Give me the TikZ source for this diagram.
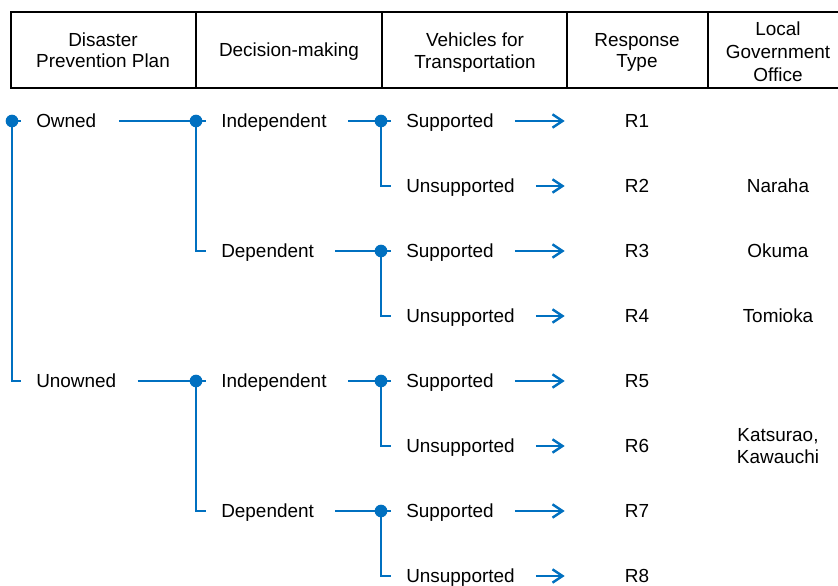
\documentclass[tikz,border=0pt]{standalone}
\usepackage{fontspec}
\setmainfont{Liberation Sans}
\usetikzlibrary{arrows.meta}
\definecolor{treeblue}{RGB}{0,112,192}
\lineskiplimit=-20pt

\begin{document}
\begin{tikzpicture}[x=0.75pt,y=-0.75pt,
  font=\fontsize{14.2pt}{17pt}\selectfont,
  lbl/.style={anchor=west,inner xsep=11.25pt,inner ysep=0pt,text height=10.2pt,text depth=0pt},
  res/.style={inner sep=0pt,text height=10.2pt,text depth=0pt},
  hd/.style={align=center,inner sep=0pt,font=\fontsize{14.2pt}{16.1pt}\selectfont},
  link/.style={draw=treeblue,line width=1.8pt},
  jdot/.style={circle,fill=treeblue,inner sep=0pt,minimum size=9.5pt},
  pick/.style={link,-{Straight Barb[length=7.5pt,width=10pt]}}]
\useasboundingbox (0,0) rectangle (838,585);

% header row
\draw[line width=1.1pt] (11,12) rectangle (860,88);
\draw[line width=1.1pt] (196,12) -- (196,88);
\draw[line width=1.1pt] (382,12) -- (382,88);
\draw[line width=1.1pt] (567,12) -- (567,88);
\draw[line width=1.1pt] (708,12) -- (708,88);
\node[hd] (hplan) at (103,50.5) {Disaster\\Prevention Plan};
\node[hd] (hdec) at (289,52) {Decision-making};
\node[hd] (hveh) at (475,52.5) {Vehicles for\\Transportation};
\node[hd] (hres) at (637,52.5) {Response\\Type};
\node[hd,font=\fontsize{14.2pt}{17.25pt}\selectfont] (hoff) at (778,51.5) {Local\\Government\\Office};

% plan
\node[jdot] (j0) at (12,121) {};
\node[lbl] (owned) at (21,121) {Owned};
\node[lbl] (unowned) at (21,381) {Unowned};
\draw[link] (j0.center) -- (owned.west);
\draw[link] (j0.center) |- (unowned.west);

% decision-making
\node[jdot] (j1) at (196,121) {};
\node[lbl] (indep1) at (206,121) {Independent};
\node[lbl] (dep1) at (206,251) {Dependent};
\draw[link] ([xshift=5.5pt]owned.east) -- (j1.center) -- (indep1.west);
\draw[link] (j1.center) |- (dep1.west);
\node[jdot] (j2) at (196,381) {};
\node[lbl] (indep2) at (206,381) {Independent};
\node[lbl] (dep2) at (206,511) {Dependent};
\draw[link] ([xshift=4.5pt]unowned.east) -- (j2.center) -- (indep2.west);
\draw[link] (j2.center) |- (dep2.west);

% vehicles
\node[jdot] (k1) at (381,121) {};
\node[lbl] (sup1) at (391,121) {Supported};
\node[lbl] (uns1) at (391,186) {Unsupported};
\draw[link] ([xshift=4.5pt]indep1.east) -- (k1.center) -- (sup1.west);
\draw[link] (k1.center) |- (uns1.west);
\node[jdot] (k2) at (381,251) {};
\node[lbl] (sup2) at (391,251) {Supported};
\node[lbl] (uns2) at (391,316) {Unsupported};
\draw[link] ([xshift=4.5pt]dep1.east) -- (k2.center) -- (sup2.west);
\draw[link] (k2.center) |- (uns2.west);
\node[jdot] (k3) at (381,381) {};
\node[lbl] (sup3) at (391,381) {Supported};
\node[lbl] (uns3) at (391,446) {Unsupported};
\draw[link] ([xshift=4.5pt]indep2.east) -- (k3.center) -- (sup3.west);
\draw[link] (k3.center) |- (uns3.west);
\node[jdot] (k4) at (381,511) {};
\node[lbl] (sup4) at (391,511) {Supported};
\node[lbl] (uns4) at (391,576) {Unsupported};
\draw[link] ([xshift=4.5pt]dep2.east) -- (k4.center) -- (sup4.west);
\draw[link] (k4.center) |- (uns4.west);

% response types
\node[res] (r1) at (637,121) {R1};
\node[res] (r2) at (637,186) {R2};
\node[res] (r3) at (637,251) {R3};
\node[res] (r4) at (637,316) {R4};
\node[res] (r5) at (637,381) {R5};
\node[res] (r6) at (637,446) {R6};
\node[res] (r7) at (637,511) {R7};
\node[res] (r8) at (637,576) {R8};
\draw[pick] ([xshift=4.5pt]sup1.east) -- ([xshift=-45pt]r1.west);
\draw[pick] ([xshift=4.5pt]uns1.east) -- ([xshift=-45pt]r2.west);
\draw[pick] ([xshift=4.5pt]sup2.east) -- ([xshift=-45pt]r3.west);
\draw[pick] ([xshift=4.5pt]uns2.east) -- ([xshift=-45pt]r4.west);
\draw[pick] ([xshift=4.5pt]sup3.east) -- ([xshift=-45pt]r5.west);
\draw[pick] ([xshift=4.5pt]uns3.east) -- ([xshift=-45pt]r6.west);
\draw[pick] ([xshift=4.5pt]sup4.east) -- ([xshift=-45pt]r7.west);
\draw[pick] ([xshift=4.5pt]uns4.east) -- ([xshift=-45pt]r8.west);

% offices
\node[res] (naraha) at (778,186) {Naraha};
\node[res] (okuma) at (778,251) {Okuma};
\node[res] (tomioka) at (778,316) {Tomioka};
\node[align=center,inner sep=0pt,font=\fontsize{14.2pt}{16.5pt}\selectfont] (katsurao) at (778,446) {Katsurao,\\Kawauchi};
\end{tikzpicture}
\end{document}
